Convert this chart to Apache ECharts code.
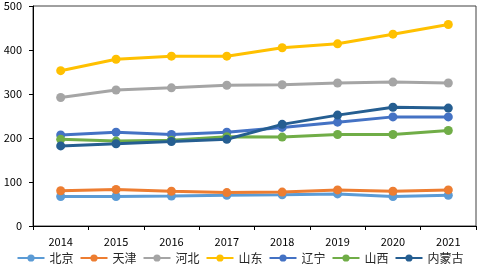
<!DOCTYPE html>
<html>
<head>
<meta charset="utf-8">
<script src="https://cdn.jsdelivr.net/npm/echarts@6/dist/echarts.min.js"></script>
<style>
  html, body { margin: 0; padding: 0; background: #fff; }
  #chart { width: 480px; height: 266px; }
</style>
</head>
<body>
<div id="chart"></div>
<script>
var years = ["2014", "2015", "2016", "2017", "2018", "2019", "2020", "2021"];
var names = ["北京", "天津", "河北", "山东", "辽宁", "山西", "内蒙古"];
var colors = ["#5B9BD5", "#ED7D31", "#A5A5A5", "#FFC000", "#4472C4", "#70AD47", "#255E91"];

var beijing = [67, 67, 68, 70, 71, 73, 67, 70];
var tianjin = [80, 83, 79, 76, 77, 82, 79, 82];
var hebei = [292, 309, 314, 320, 321, 325, 327, 325];
var shandong = [353, 379, 386, 386, 405, 414, 436, 458];
var liaoning = [207, 213, 208, 213, 224, 236, 248, 248];
var shanxi = [197, 193, 195, 203, 202, 208, 208, 217];
var neimenggu = [182, 187, 192, 197, 231, 252, 270, 268];

var yTicks = [0, 100, 200, 300, 400, 500];

var allData = [beijing, tianjin, hebei, shandong, liaoning, shanxi, neimenggu];

var series = [];
for (var i = 0; i < names.length; i++) {
    series.push({
        name: names[i],
        type: 'line',
        data: allData[i],
        symbol: 'circle',
        symbolSize: 9,
        lineStyle: { width: 3, color: colors[i] },
        itemStyle: { color: colors[i] }
    });
}

var myChart = echarts.init(document.getElementById('chart'));
var option = {
    animation: false,
    color: colors,
    textStyle: { fontFamily: 'Noto Sans CJK SC, Liberation Sans, sans-serif' },
    grid: {
        left: 33,
        right: 4,
        top: 6,
        bottom: 40,
        show: true,
        borderColor: '#404040',
        borderWidth: 1
    },
    legend: {
        bottom: 0,
        left: 'center',
        width: 480,
        padding: [0, 0, 2, 8],
        itemWidth: 27,
        itemHeight: 9,
        itemGap: 6,
        textStyle: { fontSize: 12, color: '#262626' },
        data: names
    },
    xAxis: {
        type: 'category',
        data: years,
        boundaryGap: true,
        axisLine: { lineStyle: { color: '#000', width: 1 } },
        axisTick: { show: true, inside: false, length: 4, lineStyle: { color: '#000' } },
        axisLabel: { color: '#000', fontSize: 11, margin: 10 }
    },
    yAxis: {
        type: 'value',
        min: yTicks[0],
        max: yTicks[yTicks.length - 1],
        interval: 100,
        splitLine: { show: false },
        axisLine: { show: true, lineStyle: { color: '#000', width: 1 } },
        axisTick: { show: true, inside: false, length: 4, lineStyle: { color: '#000' } },
        axisLabel: { color: '#000', fontSize: 11, margin: 11 }
    },
    series: series
};
myChart.setOption(option);
</script>
</body>
</html>
